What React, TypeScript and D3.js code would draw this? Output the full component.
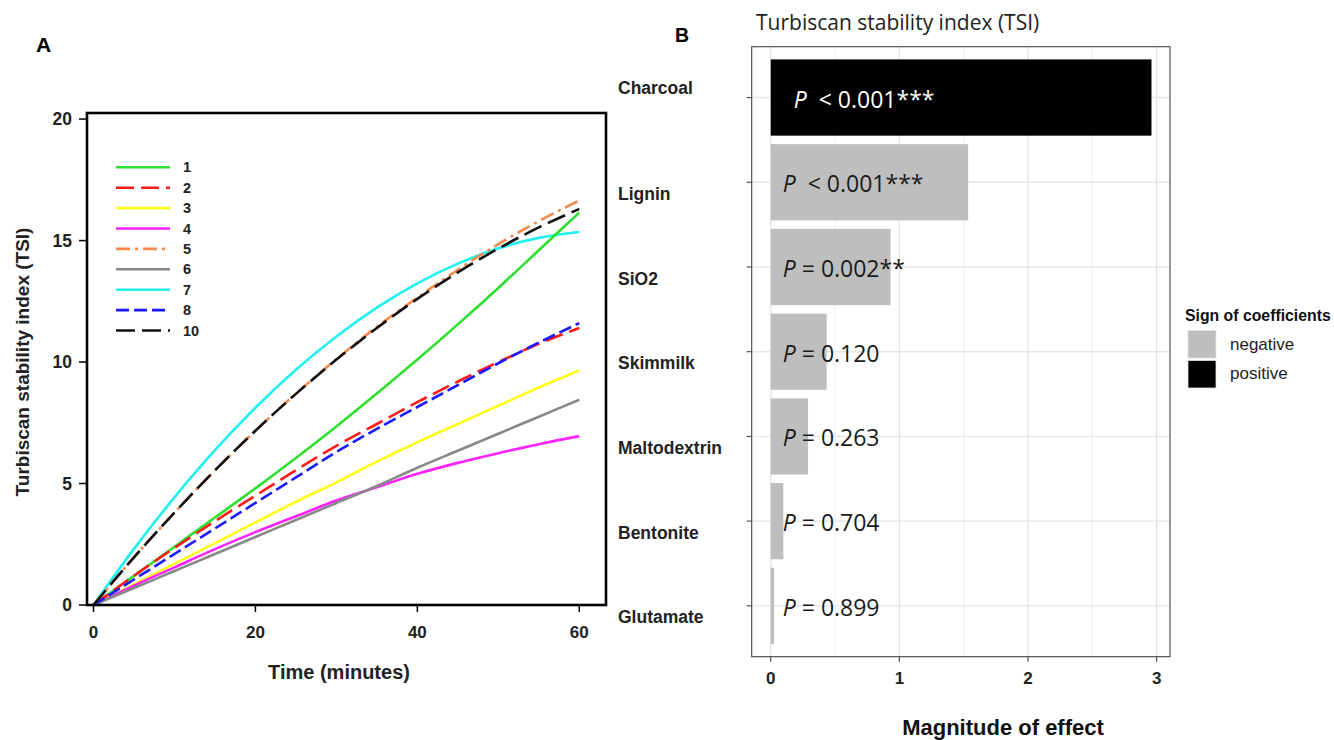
import React from "react";
import * as d3 from "d3";

// panel A: TSI over time
const minutes = [0, 5, 10, 15, 20, 25, 30, 35, 40, 45, 50, 55, 60];
const tsi1 = [0, 1.2, 2.4, 3.6, 4.8, 6.05, 7.35, 8.7, 10.1, 11.55, 13.05, 14.6, 16.15];
const tsi2 = [0, 1.2, 2.35, 3.45, 4.5, 5.55, 6.55, 7.45, 8.35, 9.2, 10.0, 10.75, 11.4];
const tsi3 = [0, 0.85, 1.7, 2.55, 3.4, 4.25, 5.05, 5.9, 6.7, 7.45, 8.2, 8.95, 9.65];
const tsi4 = [0, 0.8, 1.55, 2.3, 3.0, 3.65, 4.3, 4.85, 5.4, 5.85, 6.25, 6.62, 6.95];
const tsi5 = [0, 1.96, 3.8, 5.54, 7.17, 8.7, 10.12, 11.45, 12.65, 13.8, 14.85, 15.8, 16.65];
const tsi6 = [0, 0.7, 1.4, 2.1, 2.8, 3.5, 4.2, 4.9, 5.65, 6.35, 7.05, 7.75, 8.45];
const tsi7 = [0, 2.31, 4.43, 6.37, 8.12, 9.68, 11.05, 12.24, 13.24, 14.05, 14.68, 15.11, 15.35];
const tsi8 = [0, 1.05, 2.1, 3.15, 4.2, 5.25, 6.3, 7.25, 8.15, 9.05, 9.95, 10.8, 11.6];
const tsi10 = [0, 1.96, 3.8, 5.54, 7.17, 8.69, 10.1, 11.4, 12.6, 13.69, 14.67, 15.54, 16.3];
const sampleNames = ["1", "2", "3", "4", "5", "6", "7", "8", "10"];
const xTicksA = [0, 20, 40, 60];
const yTicksA = [0, 5, 10, 15, 20];

// panel B: magnitude of effect per ingredient
const ingredients = ["Charcoal", "Lignin", "SiO2", "Skimmilk", "Maltodextrin", "Bentonite", "Glutamate"];
const effect = [2.96, 1.535, 0.932, 0.435, 0.29, 0.098, 0.026];
const coefSign = ["positive", "negative", "negative", "negative", "negative", "negative", "negative"];
const pOp = ["<", "<", "=", "=", "=", "=", "="];
const pVal = ["0.001***", "0.001***", "0.002**", "0.120", "0.263", "0.704", "0.899"];
const xTicksB = [0, 1, 2, 3];
const signLevels = ["negative", "positive"];

const lineStyle: Record<string, { color: string; dash?: string }> = {
  "1": { color: "#2ee02e" },
  "2": { color: "#ff1a1a", dash: "18,7" },
  "3": { color: "#ffff1a" },
  "4": { color: "#ff22ff" },
  "5": { color: "#f5884a", dash: "14,5,3,5" },
  "6": { color: "#888888" },
  "7": { color: "#22f0f0" },
  "8": { color: "#1a1aff", dash: "13,5" },
  "10": { color: "#111111", dash: "19,7" },
};
const signFill: Record<string, string> = { negative: "#bebebe", positive: "#000000" };

const bold = "Liberation Sans, Arial, sans-serif";

const ChartA = () => {
  const x = d3.scaleLinear().domain([-0.8, 63.3]).range([87, 606]);
  const y = d3.scaleLinear().domain([0, 20.25]).range([605, 113]);
  const all = [tsi1, tsi2, tsi3, tsi4, tsi5, tsi6, tsi7, tsi8, tsi10];
  const line = d3
    .line<number>()
    .x((_, i) => x(minutes[i]))
    .y(d => y(d))
    .curve(d3.curveMonotoneX);
  // draw order so the dashed ones sit on top
  const order = [6, 0, 2, 3, 5, 1, 7, 4, 8];

  return (
    <g fontFamily={bold} fontWeight="bold">
      <text x={36} y={52} fontSize={21}>A</text>
      {order.map(i => {
        const st = lineStyle[sampleNames[i]];
        return (
          <path key={i} d={line(all[i]) || ""} fill="none" stroke={st.color}
            strokeWidth={2.6} strokeDasharray={st.dash} />
        );
      })}
      <rect x={87} y={113} width={519} height={492} fill="none" stroke="#000" strokeWidth={2.6} />
      {yTicksA.map(t => (
        <g key={t}>
          <line x1={79} x2={87} y1={y(t)} y2={y(t)} stroke="#000" strokeWidth={1.5} />
          <text x={72} y={y(t)} dy="0.35em" textAnchor="end" fontSize={17.5} fill="#222">{t}</text>
        </g>
      ))}
      {xTicksA.map(t => (
        <g key={t}>
          <line x1={x(t)} x2={x(t)} y1={605} y2={612} stroke="#000" strokeWidth={1.5} />
          <text x={x(t)} y={632} dy="0.35em" textAnchor="middle" fontSize={17} fill="#222">{t}</text>
        </g>
      ))}
      <text x={339} y={679} textAnchor="middle" fontSize={20} fill="#222">Time (minutes)</text>
      <text transform="translate(29,362) rotate(-90)" textAnchor="middle" fontSize={19} fill="#222">
        Turbiscan stability index (TSI)
      </text>
      {sampleNames.map((n, i) => {
        const st = lineStyle[n];
        const ly = 167.3 + i * 20.4;
        return (
          <g key={n}>
            <line x1={116} x2={170} y1={ly} y2={ly} stroke={st.color} strokeWidth={2.6}
              strokeDasharray={st.dash} />
            <text x={183} y={ly} dy="0.35em" fontSize={14.5} fill="#222">{n}</text>
          </g>
        );
      })}
    </g>
  );
};

const ChartB = () => {
  const left = 751.7, right = 1170, top = 46.7, bottom = 656.7;
  const x = d3.scaleLinear().domain([-0.148, 3.104]).range([left, right]);
  const y = d3.scaleBand().domain(ingredients).range([top, bottom]).paddingInner(0.1).paddingOuter(0.15);
  const yc = (c: string) => (y(c) || 0) + y.bandwidth() / 2;
  const minor = [0.5, 1.5, 2.5];

  return (
    <g>
      <text x={675} y={42} fontFamily={bold} fontWeight="bold" fontSize={19.5}>B</text>
      <text x={756} y={30} fontFamily="Open Sans, sans-serif" fontSize={21} fill="#222">
        Turbiscan stability index (TSI)
      </text>
      <rect x={left} y={top} width={right - left} height={bottom - top} fill="#fff" />
      {minor.map(t => (
        <line key={t} x1={x(t)} x2={x(t)} y1={top} y2={bottom} stroke="#ebebeb" strokeWidth={0.8} />
      ))}
      {xTicksB.map(t => (
        <line key={t} x1={x(t)} x2={x(t)} y1={top} y2={bottom} stroke="#e6e6e6" strokeWidth={1.4} />
      ))}
      {ingredients.map(c => (
        <line key={c} x1={left} x2={right} y1={yc(c)} y2={yc(c)} stroke="#e6e6e6" strokeWidth={1.4} />
      ))}
      {ingredients.map((c, i) => (
        <rect key={c} x={x(0)} y={y(c)} width={x(effect[i]) - x(0)} height={y.bandwidth()}
          fill={signFill[coefSign[i]]} />
      ))}
      {ingredients.map((c, i) => (
        <text key={c} x={x(0) + (coefSign[i] === "positive" ? 23 : 12)} y={yc(c) + 10}
          fontFamily="Open Sans, sans-serif" fontSize={23}
          fill={coefSign[i] === "positive" ? "#fff" : "#1a1a1a"} style={{ whiteSpace: "pre" }}>
          <tspan fontStyle="italic">P</tspan>
          <tspan>{pOp[i] === "<" ? "  < " : " = "}{pVal[i]}</tspan>
        </text>
      ))}
      <rect x={left} y={top} width={right - left} height={bottom - top} fill="none" stroke="#444" strokeWidth={1.1} />
      {ingredients.map((c, i) => (
        <g key={c}>
          <line x1={left - 5} x2={left} y1={yc(c)} y2={yc(c)} stroke="#444" strokeWidth={1.1} />
          <text x={618} y={yc(c) + (i === 0 ? -9.5 : 11.5)} dy="0.35em" fontFamily={bold}
            fontWeight="bold" fontSize={17.5} fill="#222">{c}</text>
        </g>
      ))}
      {xTicksB.map(t => (
        <g key={t}>
          <line x1={x(t)} x2={x(t)} y1={bottom} y2={bottom + 5} stroke="#444" strokeWidth={1.1} />
          <text x={x(t)} y={678} dy="0.35em" textAnchor="middle" fontFamily={bold} fontWeight="bold"
            fontSize={17} fill="#222">{t}</text>
        </g>
      ))}
      <text x={1003} y={735} textAnchor="middle" fontFamily={bold} fontWeight="bold" fontSize={22} fill="#111">
        Magnitude of effect
      </text>
      <text x={1185} y={321} fontFamily={bold} fontWeight="bold" fontSize={15.8} fill="#111">
        Sign of coefficients
      </text>
      {signLevels.map((s, i) => (
        <g key={s}>
          <rect x={1188} y={330.5 + i * 30} width={28} height={27.5} fill={signFill[s]}
            stroke="#e0e0e0" strokeWidth={0.8} />
          <text x={1230} y={344.5 + i * 29} dy="0.35em" fontFamily={bold} fontSize={17} fill="#222">{s}</text>
        </g>
      ))}
    </g>
  );
};

export default function App() {
  return (
    <svg width={1334} height={740} viewBox="0 0 1334 740"
      style={{ position: "absolute", left: 0, top: 0, background: "#fff" }}>
      <rect width={1334} height={740} fill="#fff" />
      <ChartA />
      <ChartB />
    </svg>
  );
}
